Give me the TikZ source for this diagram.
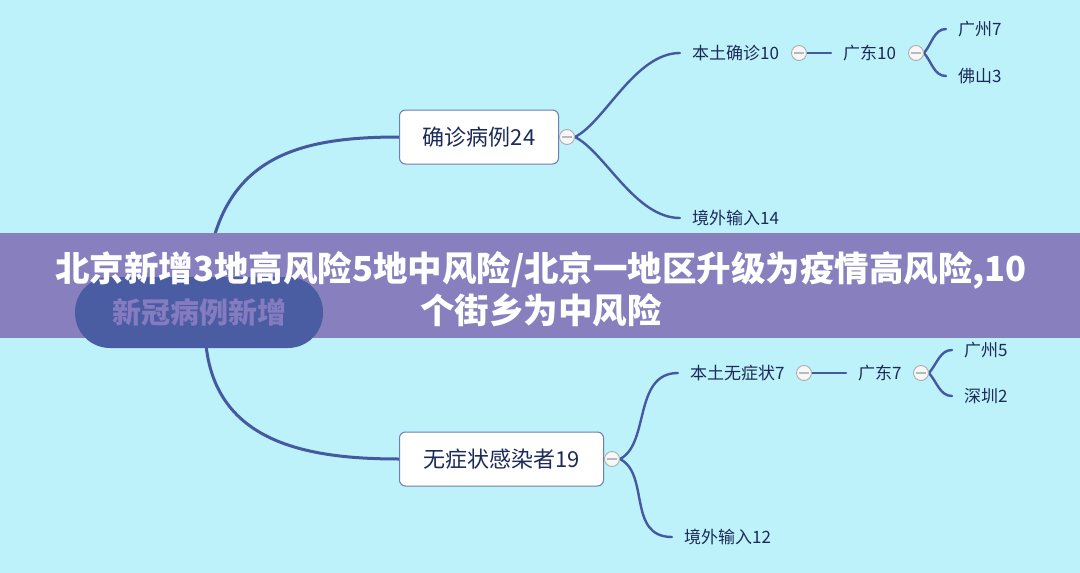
\documentclass[tikz,border=0pt]{standalone}
\usepackage{fontspec}
\newfontfamily\cjk{Noto Sans CJK SC}
\usetikzlibrary{calc}
\pgfdeclarelayer{bglayer}
\pgfdeclarelayer{linelayer}
\pgfsetlayers{bglayer,linelayer,main}
\definecolor{bgc}{HTML}{BDF2FB}
\definecolor{linec}{HTML}{4459A0}
\definecolor{boxb}{HTML}{6C7DB0}
\definecolor{txt}{HTML}{1C2A58}
\definecolor{banner}{HTML}{8880BE}
\definecolor{pill}{HTML}{4A5CA2}
\definecolor{pilltxt}{HTML}{857BC0}
\tikzset{
 mainbox/.style={draw=boxb, line width=1pt, fill=white, rounded corners=6pt, minimum height=54pt, inner xsep=20pt, font=\cjk\fontsize{22}{26}\selectfont, text=txt, anchor=west},
 lab/.style={inner xsep=12pt, inner ysep=2pt, font=\cjk\fontsize{17}{20}\selectfont, text=txt, anchor=west},
 tog/.style={circle, draw=gray!65, line width=0.9pt, fill=gray!6, minimum size=15pt, inner sep=0pt,
   path picture={\draw[gray!55, line width=1.4pt] ([xshift=-5pt]path picture bounding box.center) -- ([xshift=5pt]path picture bounding box.center);}},
 conn/.style={draw=linec, line width=3pt, line cap=round},
 sconn/.style={draw=linec, line width=2.4pt, line cap=round},
 rootpill/.style={fill=pill, rounded corners=35pt, minimum width=248pt, minimum height=71pt, font=\cjk\bfseries\fontsize{29}{33}\selectfont, text=pilltxt},
 titletext/.style={font=\cjk\bfseries\fontsize{34.5}{42}\selectfont, text=white, align=center},
}
\begin{document}
\begin{tikzpicture}[x=1pt,y=-1pt]
\begin{pgfonlayer}{bglayer}
\fill[bgc] (0,0) rectangle (1080,573);
\end{pgfonlayer}
\useasboundingbox (0,0) rectangle (1080,573);
% main boxes
\node[mainbox, minimum width=159pt] (b1) at (399,137) {确诊病例24};
\node[mainbox, minimum width=204pt] (b2) at (399,459) {无症状感染者19};
\node[tog] (t1) at ($(b1.east)+(8,0)$) {};
\node[tog] (t2) at ($(b2.east)+(8,0)$) {};
% upper branch
\node[lab] (l1) at (680,53) {本土确诊10};
\node[lab] (l2) at (680,218) {境外输入14};
\node[tog] (c1) at (799,53) {};
\node[lab] (g1) at (831,53) {广东10};
\node[tog] (c2) at (916,53) {};
\node[lab] (a1) at (946,29) {广州7};
\node[lab] (a2) at (946,76) {佛山3};
% lower branch
\node[lab] (l3) at (678,373) {本土无症状7};
\node[lab] (l4) at (672,537) {境外输入12};
\node[tog] (c3) at (804,373) {};
\node[lab] (g2) at (846,373) {广东7};
\node[tog] (c4) at (921,373) {};
\node[lab] (a3) at (952,350) {广州5};
\node[lab] (a4) at (952,396) {深圳2};
% banner
\fill[banner] (0,233) rectangle (1080,338);
\node[rootpill] (root) at (199,312.5) {新冠病例新增};
\node[titletext] (title) at (541,289) {北京新增3地高风险5地中风险/北京一地区升级为疫情高风险,10\\个街乡为中风险};
% connectors
\begin{pgfonlayer}{linelayer}
\draw[conn] ($(root.center)+(6,-13)$) .. controls (210,160) and (290,137) .. (b1.west);
\draw[conn] ($(root.center)+(6,13)$) .. controls (205,440) and (300,459) .. (b2.west);
\draw[sconn] (t1.east) .. controls +(30,-15) and +(-45,0) .. (l1.west);
\draw[sconn] (t1.east) .. controls +(30,15) and +(-45,0) .. (l2.west);
\draw[sconn] (c1.east) -- (g1.west);
\draw[sconn] (c2.east) .. controls +(8,-9) and +(-12,0) .. (a1.west);
\draw[sconn] (c2.east) .. controls +(8,9) and +(-12,0) .. (a2.west);
\draw[sconn] (t2.east) .. controls +(30,-15) and +(-45,0) .. (l3.west);
\draw[sconn] (t2.east) .. controls +(30,15) and +(-45,0) .. (l4.west);
\draw[sconn] (c3.east) -- (g2.west);
\draw[sconn] (c4.east) .. controls +(8,-9) and +(-12,0) .. (a3.west);
\draw[sconn] (c4.east) .. controls +(8,9) and +(-12,0) .. (a4.west);
\end{pgfonlayer}
\end{tikzpicture}
\end{document}
